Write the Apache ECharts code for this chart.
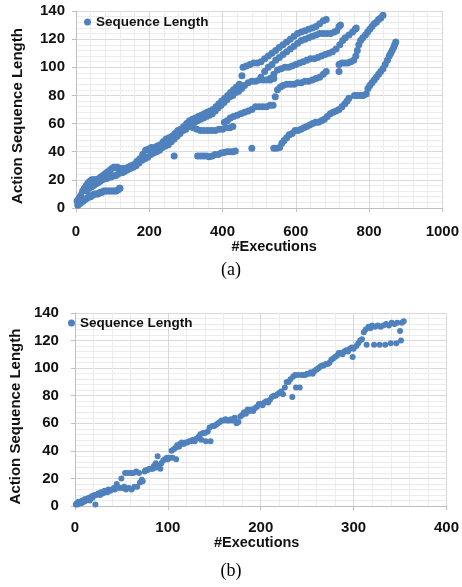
<!DOCTYPE html>
<html>
<head>
<meta charset="utf-8">
<title>Sequence Length</title>
<script src="https://cdn.jsdelivr.net/npm/echarts@6/dist/echarts.min.js"></script>
<style>
  html, body { margin: 0; padding: 0; background: #fff; }
  #main { width: 462px; height: 587px; }
</style>
</head>
<body>
<div id="main"></div>
<script type="text/javascript">
// ---- chart (a): executions vs. action sequence length ----
var trunkLow = [[5,2],[10,3],[15,4],[20,5],[25,6],[30,7],[35,8],[40,8],[45,9],[50,10],[55,10],[60,10],
  [65,11],[70,11],[75,12],[80,12],[85,12],[90,12],[95,12],[100,12],[105,12],[110,12],[115,13],[120,14]];
var trunkMid = [[30,12],[36,14],[42,15],[48,16],[54,17],[60,18],[66,19],[72,20],[78,21],[84,21],[90,22],
  [96,22],[102,23],[108,23],[114,24],[120,25],[126,25],[132,26],[140,27],[148,28],[156,29],[164,30],
  [172,32],[180,34],[188,35],[196,36],[204,38],[212,39],[220,40],[228,41],[236,43],[244,44],[252,45],
  [260,47],[268,49],[276,51],[284,53],[292,55],[300,56],[308,58],[316,60],[324,61],[332,62],[340,63],
  [348,64],[356,65],[364,66],[372,67],[380,69],[388,71],[396,73],[404,75],[412,77],[420,79],[428,80],
  [436,82],[444,83],[452,85],[460,87],[470,89],[480,90],[490,90],[500,91],[510,91],[520,91],[530,92],[540,92]];
var trunkHigh = [[3,5],[8,7],[13,9],[18,12],[23,14],[28,16],[33,18],[38,19],[43,20],[48,20],[53,20],
  [58,20],[63,21],[68,22],[73,23],[78,24],[83,25],[88,26],[93,27],[98,28],[103,29],[108,29],[113,29],
  [118,28],[123,28],[128,28],[135,28],[142,29],[150,30],[158,31],[166,33],[174,35],[182,38],[190,41],
  [198,42],[206,43],[214,43],[222,44],[230,45],[238,47],[246,49],[254,50],[262,51],[270,53],[278,55],
  [286,56],[294,58],[302,60],[310,62],[318,63],[326,64],[334,65],[342,66],[350,67],[358,68],[366,69],
  [374,70],[382,72],[390,74],[398,76],[406,78],[414,80],[422,82],[430,84],[438,86],[446,88]];
var runTop1 = [[456,100],[465,101],[475,102],[485,103],[495,103],[505,104],[515,106],[525,108],[535,110],
  [545,112],[555,114],[565,116],[575,118],[585,120],[595,122],[605,124],[615,125],[625,126],[635,127],
  [645,128],[655,129],[665,131],[675,133],[683,134]];
var runTop2 = [[505,93],[515,97],[525,100],[535,102],[545,105],[555,107],[565,109],[575,111],[585,113],
  [595,115],[605,117],[615,119],[625,120],[635,121],[645,122],[655,123],[665,124],[675,124],[685,124],
  [695,124],[705,125],[712,126],[718,129],[722,130]];
var runTop3 = [[530,91],[540,95],[550,98],[560,99],[570,100],[580,100],[590,101],[600,102],[610,103],
  [620,104],[630,105],[640,106],[650,106],[660,107],[670,108],[680,109],[690,110],[700,111],[710,113],
  [720,116],[728,119],[735,121],[745,123],[755,125],[762,127],[765,128]];
var runMid = [[544,79],[550,84],[558,86],[565,87],[575,88],[585,88],[595,88],[605,89],[615,89],[625,90],
  [635,90],[645,91],[655,92],[665,93],[675,95],[683,97],[718,97]];
var runRight = [[718,102],[726,103],[734,103],[742,103],[750,104],[758,105],[764,108],[768,112],[772,116],
  [777,119],[783,121],[790,123],[796,125],[802,127],[808,129],[814,131],[820,132],[826,134],[832,135],[838,137]];
var run62 = [[405,61],[413,62],[421,64],[430,65],[440,66],[450,67],[460,68],[470,69],[480,70],[490,72],
  [500,72],[510,72],[520,72],[530,73],[538,73]];
var run56 = [[320,57],[330,56],[340,55],[350,55],[360,55],[370,55],[380,55],[390,56],[400,56],[410,57],
  [420,57],[428,58]];
var run40 = [[332,37],[340,37],[348,37],[356,37],[364,36.5],[372,37],[380,38],[388,38],[396,39],[404,39.5],
  [412,40],[420,40],[428,40],[435,40.5],[480,42.5],[540,42.5],[548,42.5],[556,43]];
var runLong = [[562,46],[568,48],[575,50],[582,52],[590,53],[598,55],[606,55],[614,56],[622,57],[630,58],
  [638,59],[646,60],[654,61],[662,61],[670,62],[678,63],[686,65],[694,67],[702,68],[710,69],[718,70],
  [726,72],[734,74],[740,76],[745,78],[760,80],[768,80],[776,80],[784,80],[792,81],[797,85],[802,87],
  [808,89],[814,91],[820,93],[826,95],[832,97],[838,99],[844,102],[850,105],[855,108],[859,110],
  [863,112],[867,114],[870,116],[873,118]];
var strayA = [[268,37],[453,94],[119,14]];

// ---- chart (b) ----
var pointsB = [[1,1],[2,2],[3,1],[4,3],[5,2],[6,3],[7,2],[8,4],[10,3],[11,5],[12,4],[14,5],[15,6],[16,4],
  [18,7],[19,6],[21,8],[22,1],[23,8],[25,9],[27,8],[28,10],[30,9],[32,11],[33,10],[35,10],[36,12],[38,11],
  [40,12],[42,13],[43,12],[45,16],[46,14],[48,13],[50,20],[51,13],[53,14],[54,24],[55,12],[57,24],[58,13],
  [60,24],[61,12],[63,24],[64,14],[66,25],[67,14],[69,24],[70,17],[72,19],[73,18],[75,25],[76,26],[78,26],
  [80,27],[82,27],[84,27],[85,29],[87,31],[88,28],[89,36],[90,29],[92,27],[93,31],[95,33],[97,34],[99,35],
  [100,34],[102,35],[104,40],[105,35],[106,41],[108,42],[109,34],[110,44],[112,43],[113,45],[115,46],
  [117,45],[119,46],[121,46],[123,47],[125,47],[127,48],[129,47],[131,49],[133,50],[135,52],[136,48],
  [138,53],[140,53],[141,47],[143,54],[145,57],[146,47],[148,58],[150,58],[152,59],[154,60],[156,61],
  [158,62],[160,62],[162,63],[164,62],[166,62],[168,63],[170,62],[172,64],[174,60],[176,61],[178,65],
  [180,66],[182,68],[184,67],[186,70],[188,69],[190,70],[192,69],[194,71],[196,72],[198,74],[200,74],
  [202,73],[204,75],[206,76],[208,75],[210,77],[212,79],[214,80],[216,80],[218,81],[220,82],[222,83],
  [224,81],[226,86],[228,90],[230,90],[232,92],[234,79],[235,94],[237,95],[238,86],[240,95],[242,86],
  [244,95],[246,95],[248,95],[250,96],[252,96],[254,97],[256,96],[258,98],[260,99],[262,100],[264,101],
  [266,102],[268,102],[270,103],[272,103],[274,104],[276,106],[278,107],[280,108],[282,109],[284,111],
  [286,111],[288,110],[290,112],[292,113],[294,112],[296,114],[298,115],[299,108],[300,114],[303,116],
  [305,118],[307,120],[309,121],[311,126],[313,128],[314,117],[316,130],[318,129],[320,131],[322,117],
  [323,130],[326,131],[328,117],[329,130],[332,131],[334,117],[335,132],[338,131],[340,118],[341,133],
  [344,132],[346,118],[347,133],[350,127],[351,120],[352,133],[354,134]];

var dataA = [].concat(trunkLow, trunkMid, trunkHigh, runTop1, runTop2, runTop3, runMid, runRight,
  run62, run56, run40, runLong, strayA);

var blue = '#4F81BD';
var font = 'Liberation Sans';

function xAxisOf(grid, max, interval, padding, margin, gap) {
  return {
    type: 'value', gridIndex: grid, min: 0, max: max, interval: interval,
    name: '#Executions', nameLocation: 'middle', nameGap: gap,
    nameTextStyle: { fontFamily: font, fontWeight: 'bold', fontSize: 14.5, color: '#111', padding: padding },
    axisLine: { show: true, lineStyle: { color: '#bfbfbf' } },
    axisTick: { show: true, length: 4, lineStyle: { color: '#bfbfbf' } },
    minorTick: { show: false, splitNumber: 5 },
    axisLabel: { margin: margin, fontFamily: font, fontWeight: 'bold', fontSize: 15, color: '#111',
      formatter: function (v) { return String(v); } },
    splitLine: { show: true, lineStyle: { color: '#d9d9d9' } },
    minorSplitLine: { show: true, lineStyle: { color: '#ececec' } }
  };
}
function yAxisOf(grid, padding, margin, gap) {
  return {
    type: 'value', gridIndex: grid, min: 0, max: 140, interval: 20,
    name: 'Action Sequence Length', nameLocation: 'middle', nameGap: gap,
    nameTextStyle: { fontFamily: font, fontWeight: 'bold', fontSize: 15, color: '#111', padding: padding },
    axisLine: { show: true, lineStyle: { color: '#bfbfbf' } },
    axisTick: { show: true, length: 4, lineStyle: { color: '#bfbfbf' } },
    minorTick: { show: false, splitNumber: 5 },
    axisLabel: { margin: margin, fontFamily: font, fontWeight: 'bold', fontSize: 15, color: '#111' },
    splitLine: { show: true, lineStyle: { color: '#d9d9d9' } },
    minorSplitLine: { show: true, lineStyle: { color: '#ececec' } }
  };
}
function legendOf(left, top) {
  return {
    left: left, top: top, padding: 0, icon: 'circle', itemWidth: 7, itemHeight: 7,
    selectedMode: false, data: ['Sequence Length'],
    textStyle: { fontFamily: font, fontWeight: 'bold', fontSize: 13.5, color: '#111' }
  };
}

var chart = echarts.init(document.getElementById('main'));
chart.setOption({
  animation: false,
  backgroundColor: '#fff',
  grid: [
    { left: 76, right: 17, top: 11, height: 197 },
    { left: 71, right: 14, top: 313, height: 193 }
  ],
  legend: [legendOf(84, 15), legendOf(68, 316)],
  xAxis: [xAxisOf(0, 1000, 200, [0, 0, 0, 30], 16, 27), xAxisOf(1, 400, 100, [0, 8, 0, 0], 14, 26)],
  yAxis: [yAxisOf(0, [0, 13, 0, 0], 11, 51), yAxisOf(1, [0, 14, 0, 0], 16, 45)],
  series: [
    { name: 'Sequence Length', type: 'scatter', xAxisIndex: 0, yAxisIndex: 0,
      symbolSize: 7, itemStyle: { color: blue, opacity: 1 }, data: dataA },
    { name: 'Sequence Length', type: 'scatter', xAxisIndex: 1, yAxisIndex: 1,
      symbolSize: 6, itemStyle: { color: blue, opacity: 1 }, data: pointsB }
  ],
  graphic: [
    { type: 'text', x: 231, y: 270, style: { text: '(a)', font: '18px "Liberation Serif"', fill: '#000',
      textAlign: 'center', textVerticalAlign: 'middle' } },
    { type: 'text', x: 231, y: 571, style: { text: '(b)', font: '18px "Liberation Serif"', fill: '#000',
      textAlign: 'center', textVerticalAlign: 'middle' } }
  ]
});
</script>
</body>
</html>
